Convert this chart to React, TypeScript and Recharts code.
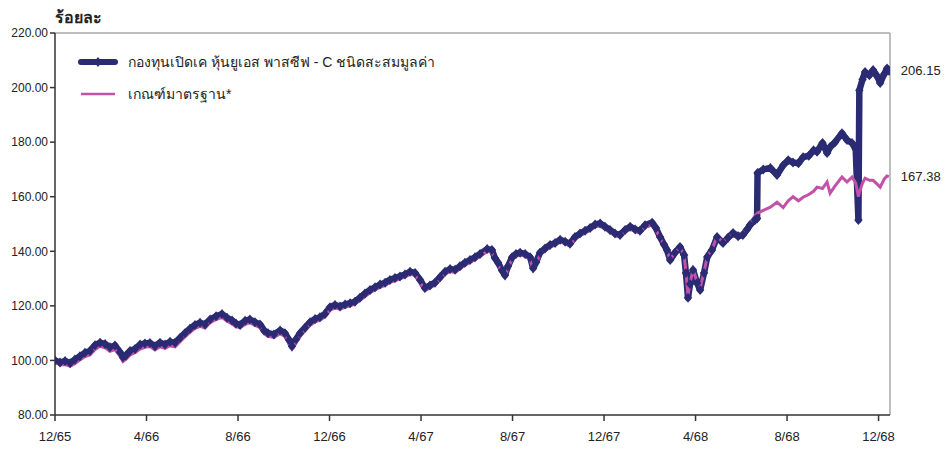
import React from 'react';
import { LineChart, Line, XAxis, YAxis, ReferenceLine, ReferenceDot, Legend } from 'recharts';

// months since 12/65
const monthsT = [
  0.00, 0.22, 0.44, 0.66, 0.87, 1.09, 1.31, 1.53, 1.75, 1.97, 2.19, 2.40, 2.62, 2.84, 2.97, 3.10, 3.28, 3.50, 3.72, 3.93,
  4.15, 4.37, 4.59, 4.81, 5.03, 5.25, 5.46, 5.68, 5.90, 6.12, 6.34, 6.56, 6.78, 7.04, 7.30, 7.52, 7.74, 7.91, 8.09, 8.31,
  8.52, 8.74, 8.96, 9.14, 9.31, 9.57, 9.84, 10.05, 10.23, 10.36, 10.54, 10.71, 10.93, 11.15, 11.37, 11.58, 11.80, 12.02, 12.24, 12.46,
  12.68, 12.90, 13.11, 13.33, 13.55, 13.77, 13.99, 14.21, 14.43, 14.64, 14.86, 15.08, 15.30, 15.52, 15.74, 15.96, 16.17, 16.39, 16.61, 16.83,
  17.05, 17.27, 17.49, 17.70, 17.92, 18.14, 18.36, 18.58, 18.89, 19.10, 19.23, 19.37, 19.54, 19.67, 19.80, 19.98, 20.15, 20.33, 20.55, 20.77,
  20.90, 21.03, 21.20, 21.42, 21.64, 21.86, 22.08, 22.30, 22.51, 22.73, 22.95, 23.17, 23.39, 23.61, 23.83, 24.04, 24.26, 24.48, 24.70, 24.92,
  25.14, 25.36, 25.57, 25.79, 26.10, 26.27, 26.45, 26.62, 26.75, 26.89, 27.10, 27.32, 27.50, 27.58, 27.67, 27.76, 27.89, 28.07, 28.20, 28.37,
  28.51, 28.72, 28.94, 29.20, 29.42, 29.64, 29.86, 30.07, 30.25, 30.38, 30.60, 30.69, 30.71, 30.96, 31.27, 31.56, 31.83, 32.05, 32.26, 32.50,
  32.70, 32.95, 33.16, 33.31, 33.55, 33.75, 33.88, 34.10, 34.40, 34.62, 34.84, 35.00, 35.12, 35.16, 35.30, 35.41, 35.60, 35.76, 35.95, 36.07,
  36.25, 36.37, 36.45,
];

const fundValues = [
  100.0, 99.2, 99.8, 99.0, 100.3, 101.5, 102.8, 103.5, 105.6, 106.5, 106.0, 104.8, 105.5, 103.0, 101.2, 101.8, 103.5, 104.2, 105.8, 106.2,
  106.4, 105.2, 106.5, 105.8, 106.8, 106.5, 108.2, 110.0, 111.6, 113.0, 113.8, 113.2, 115.0, 116.2, 117.0, 115.6, 114.6, 113.5, 113.0, 114.5,
  115.0, 114.0, 113.2, 111.0, 110.0, 109.5, 111.0, 110.0, 107.5, 105.2, 107.8, 110.0, 112.0, 114.0, 115.2, 115.8, 117.0, 119.5, 120.3, 119.8,
  120.5, 121.0, 121.5, 123.0, 124.5, 125.8, 126.8, 127.8, 128.5, 129.5, 130.2, 130.8, 131.5, 132.5, 132.0, 129.5, 126.5, 127.5, 128.5, 130.5,
  132.5, 133.5, 133.2, 134.5, 135.8, 136.8, 137.8, 139.0, 140.8, 140.5, 137.5, 135.8, 133.0, 131.2, 134.5, 137.8, 139.0, 139.5, 139.0, 137.8,
  133.8, 136.0, 139.5, 141.0, 142.3, 143.0, 144.2, 143.5, 142.8, 145.2, 146.5, 147.5, 148.5, 149.8, 150.2, 149.0, 147.8, 146.5, 146.0, 147.8,
  149.0, 148.0, 147.5, 149.5, 150.5, 148.5, 145.2, 142.5, 140.5, 136.8, 139.5, 141.6, 138.6, 132.0, 123.0, 128.0, 133.1, 128.4, 125.8, 132.0,
  137.9, 140.5, 145.2, 143.0, 145.0, 146.7, 145.5, 146.0, 148.0, 149.6, 151.5, 152.0, 168.7, 170.0, 170.5, 168.0, 171.5, 173.4, 172.5, 172.3,
  174.5, 175.0, 177.0, 176.5, 179.7, 176.0, 178.2, 180.0, 183.3, 180.8, 179.7, 177.5, 151.5, 199.0, 203.0, 205.7, 204.5, 206.4, 204.0, 201.7,
  205.0, 207.0, 206.15,
];

const benchValues = [
  99.6, 98.3, 98.5, 97.9, 98.8, 100.2, 101.4, 102.0, 104.0, 105.2, 104.6, 103.3, 104.0, 101.6, 99.6, 100.4, 102.0, 102.8, 104.2, 104.8,
  105.1, 103.8, 105.0, 104.4, 105.4, 105.0, 106.8, 108.6, 110.3, 111.8, 112.5, 111.9, 113.8, 115.0, 115.8, 114.4, 113.4, 112.3, 112.0, 113.2,
  113.8, 112.8, 112.0, 109.8, 108.8, 108.4, 109.8, 108.8, 106.2, 104.2, 106.6, 108.8, 110.9, 112.9, 114.1, 114.8, 116.0, 118.4, 119.2, 118.8,
  119.5, 120.0, 120.6, 122.0, 123.4, 124.8, 125.8, 126.8, 127.5, 128.6, 129.2, 129.9, 130.6, 131.6, 131.2, 128.6, 125.6, 126.6, 127.6, 129.6,
  131.6, 132.6, 132.3, 133.6, 134.9, 135.9, 136.9, 138.2, 140.0, 139.6, 136.8, 135.0, 132.2, 130.5, 133.8, 137.0, 138.2, 138.8, 138.2, 137.0,
  133.2, 135.3, 138.7, 140.3, 141.6, 142.3, 143.5, 142.8, 142.0, 144.4, 145.8, 146.8, 147.8, 149.0, 149.4, 148.3, 147.0, 145.8, 145.2, 147.0,
  148.2, 147.2, 146.8, 148.8, 149.8, 147.9, 144.8, 142.2, 140.3, 136.8, 139.6, 141.4, 138.6, 132.3, 123.8, 128.4, 133.2, 128.8, 126.5, 132.4,
  138.0, 140.8, 145.4, 143.4, 145.3, 147.0, 146.2, 146.8, 148.6, 150.2, 153.0, 153.8, 154.0, 155.0, 156.2, 158.0, 156.0, 158.5, 160.0, 158.5,
  159.8, 160.8, 162.0, 163.5, 163.0, 165.4, 161.3, 164.0, 167.2, 165.4, 167.2, 165.0, 160.0, 161.5, 165.0, 166.8, 166.0, 166.0, 164.5, 163.5,
  166.5, 167.6, 167.38,
];

const xTicks = [0, 4, 8, 12, 16, 20, 24, 28, 32, 36];
const xTickLabels = ['12/65', '4/66', '8/66', '12/66', '4/67', '8/67', '12/67', '4/68', '8/68', '12/68'];
const yTicks = [80, 100, 120, 140, 160, 180, 200, 220];

const fundName = 'กองทุนเปิดเค หุ้นยูเอส พาสซีฟ - C ชนิดสะสมมูลค่า';
const benchName = 'เกณฑ์มาตรฐาน*';
const fundLast = 206.15;
const benchLast = 167.38;

const NAVY = '#2a2b72';
const MAGENTA = '#c251a8';
const FONT = '"Liberation Sans", "Noto Sans", sans-serif';

const data = monthsT.map((t, i) => ({ t, fund: fundValues[i], bench: benchValues[i] }));

const Diamond = (props: any) => {
  const { cx, cy, index } = props;
  if (cx == null || cy == null) return <g key={index} />;
  return (
    <path
      key={index}
      d={`M${cx},${cy - 5}L${cx + 4.2},${cy}L${cx},${cy + 5}L${cx - 4.2},${cy}Z`}
      fill={NAVY}
    />
  );
};

const LegendContent = () => (
  <div style={{ fontFamily: FONT, fontSize: 14, color: '#222' }}>
    <div style={{ display: 'flex', alignItems: 'center', height: 20, marginBottom: 12 }}>
      <svg width={40} height={14} style={{ marginRight: 10 }}>
        <line x1={3} y1={7} x2={37} y2={7} stroke={NAVY} strokeWidth={6} strokeLinecap="round" />
        <path d="M20,2 L24,7 L20,12 L16,7 Z" fill={NAVY} />
      </svg>
      <span>{fundName}</span>
    </div>
    <div style={{ display: 'flex', alignItems: 'center', height: 20 }}>
      <svg width={40} height={14} style={{ marginRight: 10 }}>
        <line x1={3} y1={7} x2={37} y2={7} stroke={MAGENTA} strokeWidth={2.5} />
      </svg>
      <span>{benchName}</span>
    </div>
  </div>
);

export default function App() {
  return (
    <div style={{ position: 'absolute', left: 0, top: 0, width: 952, height: 450, background: '#fff' }}>
      <div
        style={{
          position: 'absolute',
          left: 55,
          top: 5,
          fontFamily: '"Noto Sans", sans-serif',
          fontWeight: 700,
          fontSize: 16,
          color: '#222',
        }}
      >
        ร้อยละ
      </div>
      <LineChart
        width={952}
        height={450}
        data={data}
        margin={{ top: 33, right: 62, bottom: 0, left: 0 }}
      >
        <XAxis
          dataKey="t"
          type="number"
          domain={[0, 36.5]}
          ticks={xTicks}
          tickFormatter={(v: number) => xTickLabels[xTicks.indexOf(v)] ?? ''}
          height={35}
          stroke="#333"
          strokeWidth={1.5}
          tickSize={6}
          tick={{ fill: '#222', fontSize: 13, fontFamily: FONT, dy: 9 }}
          allowDataOverflow
        />
        <YAxis
          type="number"
          domain={[80, 220]}
          ticks={yTicks}
          tickFormatter={(v: number) => v.toFixed(2)}
          width={55}
          stroke="#333"
          strokeWidth={1.5}
          tickSize={5}
          tick={{ fill: '#222', fontSize: 12, fontFamily: FONT }}
          allowDataOverflow
        />
        <ReferenceLine y={220} stroke="#a8a8a8" strokeWidth={1.5} />
        <ReferenceLine x={36.5} stroke="#a8a8a8" strokeWidth={1.5} />
        <Legend
          layout="vertical"
          align="center"
          verticalAlign="middle"
          wrapperStyle={{ position: 'absolute', top: 52, left: 78, width: 500 }}
          content={<LegendContent />}
        />
        <Line
          dataKey="fund"
          type="linear"
          stroke={NAVY}
          strokeWidth={6.5}
          strokeLinejoin="round"
          dot={<Diamond />}
          activeDot={false}
          isAnimationActive={false}
        />
        <Line
          dataKey="bench"
          type="linear"
          stroke={MAGENTA}
          strokeWidth={3}
          dot={false}
          activeDot={false}
          isAnimationActive={false}
        />
        <ReferenceDot
          x={36.45}
          y={fundLast}
          r={0}
          ifOverflow="visible"
          label={{ value: fundLast.toFixed(2), position: 'right', offset: 12, fill: '#222', fontSize: 13, fontFamily: FONT }}
        />
        <ReferenceDot
          x={36.45}
          y={benchLast}
          r={0}
          ifOverflow="visible"
          label={{ value: benchLast.toFixed(2), position: 'right', offset: 12, fill: '#222', fontSize: 13, fontFamily: FONT }}
        />
      </LineChart>
    </div>
  );
}
